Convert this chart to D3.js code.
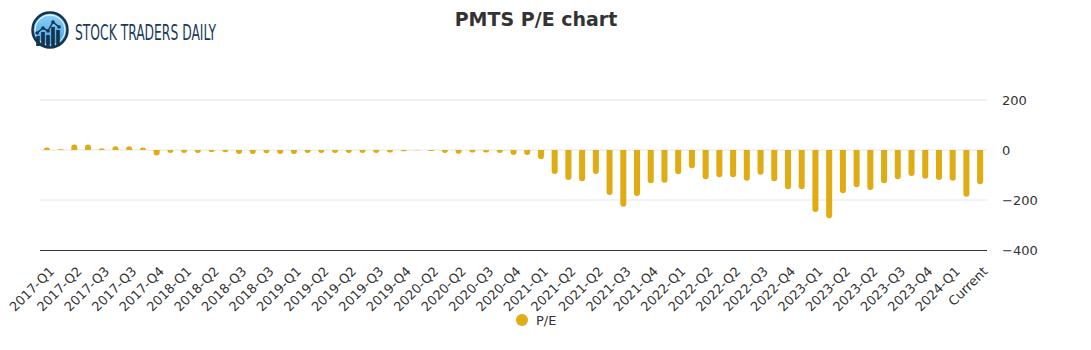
<!DOCTYPE html>
<html>
<head>
<meta charset="utf-8">
<script src="https://cdn.jsdelivr.net/npm/d3@7"></script>
<style>
  body { margin: 0; background: #fff; }
  svg { display: block; font-family: "DejaVu Sans", sans-serif; }
</style>
</head>
<body>
<svg id="chart" width="1091" height="350"></svg>
<script>
"use strict";

// one label per bar, only every other label is shown on the axis
const categories = [
    "2017-Q1", "2017-Q1", "2017-Q2", "2017-Q2", "2017-Q3", "2017-Q3", "2017-Q3", "2017-Q4",
    "2017-Q4", "2017-Q4", "2018-Q1", "2018-Q1", "2018-Q2", "2018-Q2", "2018-Q3", "2018-Q3",
    "2018-Q3", "2018-Q4", "2019-Q1", "2019-Q1", "2019-Q2", "2019-Q2", "2019-Q2", "2019-Q3",
    "2019-Q3", "2019-Q4", "2019-Q4", "2020-Q1", "2020-Q2", "2020-Q2", "2020-Q2", "2020-Q3",
    "2020-Q3", "2020-Q4", "2020-Q4", "2020-Q4", "2021-Q1", "2021-Q1", "2021-Q2", "2021-Q2",
    "2021-Q2", "2021-Q3", "2021-Q3", "2021-Q4", "2021-Q4", "2022-Q1", "2022-Q1", "2022-Q2",
    "2022-Q2", "2022-Q2", "2022-Q2", "2022-Q3", "2022-Q3", "2022-Q4", "2022-Q4", "2023-Q1",
    "2023-Q1", "2023-Q1", "2023-Q2", "2023-Q2", "2023-Q2", "2023-Q3", "2023-Q3", "2023-Q4",
    "2023-Q4", "2024-Q1", "2024-Q1", "2024-Q1", "Current"
];

const peValues = [
    10, 3, 22, 22, 6, 15, 15, 10, -22, -12,
    -12, -12, -8, -8, -16, -16, -13, -16, -16, -12,
    -12, -12, -12, -12, -12, -10, -5, -1, -4, -12,
    -15, -10, -10, -12, -20, -20, -37, -96, -120, -125,
    -96, -180, -227, -184, -133, -131, -97, -73, -117, -109,
    -109, -123, -99, -125, -157, -157, -248, -273, -173, -149,
    -160, -133, -117, -104, -115, -120, -123, -187, -137
];

const yTicks = [200, 0, -200, -400];

const barColor = "#e0ac14";
const textColor = "#333333";

const plotLeft = 40, plotRight = 987;
const plotTop = 100, plotBottom = 250;

const svg = d3.select("#chart");

// logo
const logo = svg.append("g");
const grad = svg.append("defs").append("linearGradient")
    .attr("id", "logoGrad").attr("x1", 0).attr("y1", 0).attr("x2", 0).attr("y2", 1);
grad.append("stop").attr("offset", "0%").attr("stop-color", "#8fd3fb");
grad.append("stop").attr("offset", "100%").attr("stop-color", "#3a9fe0");
logo.append("circle").attr("cx", 50).attr("cy", 30).attr("r", 17.5)
    .attr("fill", "url(#logoGrad)").attr("stroke", "#17324d").attr("stroke-width", 2.5);
logo.append("circle").attr("cx", 50).attr("cy", 30).attr("r", 15)
    .attr("fill", "none").attr("stroke", "#ffffff").attr("stroke-width", 1);
const logoBars = [[38, 36], [43, 32], [48, 35], [53, 27], [58, 30]];
logoBars.forEach(b => {
    logo.append("rect").attr("x", b[0] - 1.8).attr("y", b[1]).attr("width", 3.6)
        .attr("height", 46 - b[1]).attr("fill", "#17324d");
});
logo.append("polyline")
    .attr("points", "37,33 43,28 48,31 53,22 59,27")
    .attr("fill", "none").attr("stroke", "#17324d").attr("stroke-width", 1.5);
logo.selectAll("circle.dot").data([[37, 33], [43, 28], [48, 31], [53, 22], [59, 27]])
    .join("circle").attr("class", "dot")
    .attr("cx", d => d[0]).attr("cy", d => d[1]).attr("r", 1.8).attr("fill", "#17324d");
logo.append("text")
    .attr("x", 75).attr("y", 39.5)
    .attr("font-family", "'DejaVu Sans Condensed', 'Liberation Sans Narrow', sans-serif")
    .attr("font-size", 21.5)
    .attr("textLength", 141).attr("lengthAdjust", "spacingAndGlyphs")
    .attr("fill", "#1b3a5a")
    .text("STOCK TRADERS DAILY");

// title
svg.append("text")
    .attr("x", 536).attr("y", 26)
    .attr("text-anchor", "middle")
    .attr("font-size", 19).attr("font-weight", "bold")
    .attr("fill", textColor)
    .text("PMTS P/E chart");

// scales
const x = d3.scaleBand()
    .domain(d3.range(peValues.length))
    .range([plotLeft, plotRight])
    .paddingInner(0.56).paddingOuter(0.28);

const y = d3.scaleLinear()
    .domain([-400, 200])
    .range([plotBottom, plotTop]);

// grid lines
svg.append("g").selectAll("line")
    .data(yTicks.filter(t => t !== -400))
    .join("line")
    .attr("x1", plotLeft).attr("x2", plotRight)
    .attr("y1", d => y(d)).attr("y2", d => y(d))
    .attr("stroke", "#e6e6e6").attr("stroke-width", 1);

// y axis on the right
const yAxis = svg.append("g")
    .attr("transform", `translate(${plotRight},0)`)
    .call(d3.axisRight(y).tickValues(yTicks).tickSize(0).tickPadding(15).tickFormat(d3.format("d")));
yAxis.select(".domain").remove();
yAxis.selectAll("text")
    .attr("font-family", "'DejaVu Sans', sans-serif")
    .attr("font-size", 13).attr("fill", textColor);

// bottom axis line
svg.append("line")
    .attr("x1", plotLeft).attr("x2", plotRight)
    .attr("y1", y(-400) + 0.5).attr("y2", y(-400) + 0.5)
    .attr("stroke", "#333333").attr("stroke-width", 1);

// bars with a rounded far end
function barPath(d, i) {
    const x0 = x(i), w = x.bandwidth();
    const y0 = y(0), y1 = y(d);
    const r = Math.min(w / 2, Math.abs(y1 - y0));
    if (d >= 0) {
        return `M${x0},${y0} L${x0},${y1 + r} A${r},${r} 0 0 1 ${x0 + r},${y1}` +
            ` L${x0 + w - r},${y1} A${r},${r} 0 0 1 ${x0 + w},${y1 + r} L${x0 + w},${y0} Z`;
    }
    return `M${x0},${y0} L${x0},${y1 - r} A${r},${r} 0 0 0 ${x0 + r},${y1}` +
        ` L${x0 + w - r},${y1} A${r},${r} 0 0 0 ${x0 + w},${y1 - r} L${x0 + w},${y0} Z`;
}

svg.append("g").selectAll("path")
    .data(peValues)
    .join("path")
    .attr("d", (d, i) => barPath(d, i))
    .attr("fill", barColor);

// x labels, every other category
svg.append("g").selectAll("text")
    .data(categories.map((c, i) => ({ c, i })).filter(o => o.i % 2 === 0))
    .join("text")
    .attr("transform", o => `translate(${x(o.i) + x.bandwidth() / 2 + 5},${plotBottom + 19}) rotate(-45)`)
    .attr("text-anchor", "end")
    .attr("dy", "0.35em")
    .attr("font-size", 13)
    .attr("fill", textColor)
    .text(o => o.c);

// legend
svg.append("circle").attr("cx", 522).attr("cy", 320).attr("r", 6).attr("fill", barColor);
svg.append("text").attr("x", 536).attr("y", 325)
    .attr("font-size", 13).attr("fill", textColor).text("P/E");
</script>
</body>
</html>
